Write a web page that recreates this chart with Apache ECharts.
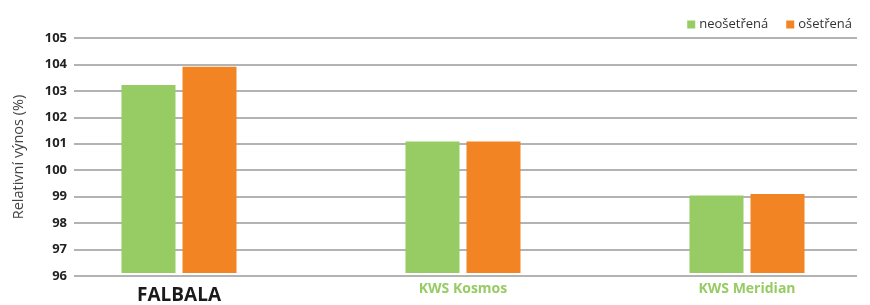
<!DOCTYPE html>
<html><head><meta charset="utf-8">
<script src="https://cdn.jsdelivr.net/npm/echarts@6/dist/echarts.min.js"></script>
<style>html,body{margin:0;padding:0;background:#fff}#c{width:870px;height:305px}</style>
</head><body><div id="c"></div>
<script>
const categories = ['FALBALA', 'KWS Kosmos', 'KWS Meridian'];
const seriesNames = ['neošetřená', 'ošetřená'];
const untreated = [103.2, 101.04, 98.97];
const treated = [103.9, 101.04, 99.03];
const yMin = 96, yMax = 105, yStep = 1;
const colors = ['#97CB63', '#F38423'];

const chart = echarts.init(document.getElementById('c'));
chart.setOption({
  animation: false,
  color: colors,
  legend: {
    right: 13, top: 13, itemWidth: 8, itemHeight: 8, itemGap: 18,
    icon: 'rect',
    textStyle: { fontFamily: 'Open Sans', fontSize: 13, color: '#333', padding: [0, 0, 0, -1] },
    data: seriesNames
  },
  grid: [
    { left: 74, right: 13, top: 38, bottom: 29 },
    { left: 179, right: 123, top: 38, bottom: 29 }
  ],
  xAxis: [
    { gridIndex: 0, type: 'value', show: false, min: 0, max: 1 },
    {
      gridIndex: 1, type: 'category', data: categories, boundaryGap: false,
      axisLine: { show: false }, axisTick: { show: false },
      axisLabel: {
        interval: 0, margin: 9,
        formatter: function (v, i) { return i === 0 ? '{a|' + v + '}' : '{b|' + v + '}'; },
        rich: {
          a: { fontFamily: 'Open Sans', fontWeight: 'bold', fontSize: 19, color: '#1a1a1a', padding: [4, 0, 0, 0] },
          b: { fontFamily: 'Open Sans', fontWeight: 'bold', fontSize: 14, color: '#97CB63' }
        }
      }
    }
  ],
  yAxis: [
    {
      gridIndex: 0, type: 'value', min: yMin, max: yMax, interval: yStep,
      name: 'Relativní výnos (%)', nameLocation: 'middle', nameGap: 48, nameRotate: 90,
      nameTextStyle: { fontFamily: 'Open Sans', fontSize: 14.5, color: '#444' },
      axisLine: { show: false }, axisTick: { show: false },
      axisLabel: { fontFamily: 'Open Sans', fontWeight: 'bold', fontSize: 13, color: '#222', margin: 7 },
      splitLine: { show: true, lineStyle: { color: '#b3b3b3', width: 2 } }
    },
    { gridIndex: 1, type: 'value', min: yMin, max: yMax, show: false, splitLine: { show: false } }
  ],
  series: [
    { name: seriesNames[0], type: 'bar', xAxisIndex: 1, yAxisIndex: 1, data: untreated, barWidth: 54, barGap: '13%' },
    { name: seriesNames[1], type: 'bar', xAxisIndex: 1, yAxisIndex: 1, data: treated, barWidth: 54, barGap: '13%' }
  ]
});
</script></body></html>
